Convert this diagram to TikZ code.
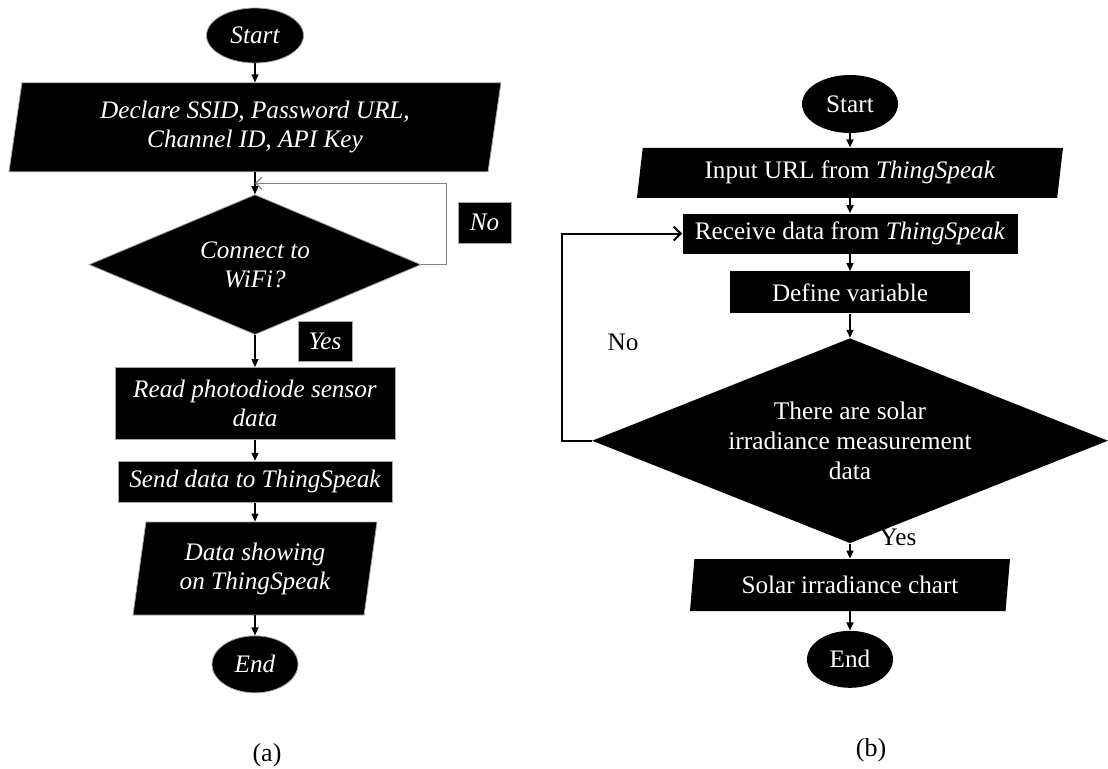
\documentclass[tikz,border=0pt]{standalone}
\usepackage{fontspec}
\setmainfont{Liberation Serif}
\usetikzlibrary{calc,arrows.meta,shapes.geometric,positioning}

\begin{document}
\begin{tikzpicture}[x=0.5pt, y=-0.5pt,
        flow/.style={-{Triangle[length=4pt,width=3.5pt]}, line width=0.6pt},
        >=Triangle]
        \tikzset{
                basic/.style     = {fill=black, text=white, align=center, inner sep=0pt},
                startstop/.style = {basic, ellipse},
                process/.style   = {basic, rectangle},
                inout/.style     = {basic, trapezium, trapezium left angle=76,
                                trapezium right angle=104, trapezium stretches body},
                decision/.style  = {basic, diamond},
                lft/.style       = {font=\fontsize{12.6}{14.5}\selectfont\itshape,
                                draw=gray!70, line width=0.4pt},
                rgt/.style       = {font=\fontsize{12.6}{15}\selectfont},
                loopl/.style     = {draw=gray, line width=0.6pt,
                                -{Straight Barb[length=3pt,width=6pt]}},
                loopr/.style     = {line width=1pt,
                                -{Straight Barb[length=3.5pt,width=7pt]}}
        }
        \useasboundingbox (0,0) rectangle (1108,769);

        % chart (a), the sensor side
        \node[startstop, lft, minimum width=48.5pt, minimum height=27.5pt] (s1) at (255,35.5) {Start};
        \node[inout, lft, below=9.5pt of s1, minimum width=246pt, minimum height=44.5pt] (d1)
                {Declare SSID, Password URL,\\ Channel ID, API Key};
        \node[decision, lft, below=11pt of d1, minimum width=166pt, minimum height=70pt, aspect=2.37] (c1)
                {Connect to\\ WiFi?};
        \node[process, lft, below=16pt of c1, minimum width=140pt, minimum height=36pt] (r1)
                {Read photodiode sensor\\ data};
        \node[process, lft, below=10.5pt of r1, minimum width=137pt, minimum height=20.5pt] (t1)
                {Send data to ThingSpeak};
        \node[inout, lft, below=9.5pt of t1, minimum width=122pt, minimum height=46.5pt] (o1)
                {Data showing\\ on ThingSpeak};
        \node[startstop, lft, below=10pt of o1, minimum width=43pt, minimum height=28.5pt] (e1) {End};

        % answers of the WiFi test
        \node[process, lft, minimum width=26.5pt, minimum height=20.5pt] (n1) at (484.5,222.5) {No};
        \node[process, lft, minimum width=27pt, minimum height=20pt] (y1) at (325,341) {Yes};

        % chart (b), the receiving side
        \node[startstop, rgt, minimum width=48pt, minimum height=29pt] (s2) at (850,104) {Start};
        \node[inout, rgt, below=7pt of s2, minimum width=213pt, minimum height=25pt] (i2)
                {Input URL from \textit{ThingSpeak}};
        \node[process, rgt, below=7.5pt of i2, minimum width=167.5pt, minimum height=20pt] (v2)
                {Receive data from \textit{ThingSpeak}};
        \node[process, rgt, below=8.5pt of v2, minimum width=120pt, minimum height=21pt] (f2)
                {Define variable};
        \node[decision, rgt, below=12pt of f2, minimum width=258pt, minimum height=102.5pt, aspect=2.5,
                font=\fontsize{12.7}{15}\selectfont] (q2)
                {There are solar\\ irradiance measurement\\ data};
        \node[inout, rgt, below=7.5pt of q2, minimum width=160pt, minimum height=26pt] (p2)
                {Solar irradiance chart};
        \node[startstop, rgt, below=9.5pt of p2, minimum width=43pt, minimum height=28.5pt] (e2) {End};

        \node[rgt] (n2) at (623,342) {No};
        \node[rgt] (y2) at (898,537) {Yes};

        % captions
        \node[font=\fontsize{13}{15}\selectfont] (ca) at (267,755) {(a)};
        \node[font=\fontsize{13}{15}\selectfont] (cb) at (871,750) {(b)};

        % straight connectors down each chart
        \foreach \a/\b in {s1/d1, d1/c1, c1/r1, r1/t1, t1/o1, o1/e1}
                \draw[flow] (\a.south) -- (\b.north);
        \foreach \a/\b in {s2/i2, i2/v2, v2/f2, f2/q2, q2/p2, p2/e2}
                \draw[flow, line width=0.8pt] (\a.south) -- (\b.north);

        % loops back when the test fails
        \coordinate (j1) at ($(d1.south)!0.5!(c1.north)$);
        \draw[loopl] (c1.east) -- ++(25,0) |- (j1);
        \draw[loopr] (q2.west) -- ++(-30,0) |- (v2.west);
\end{tikzpicture}
\end{document}
